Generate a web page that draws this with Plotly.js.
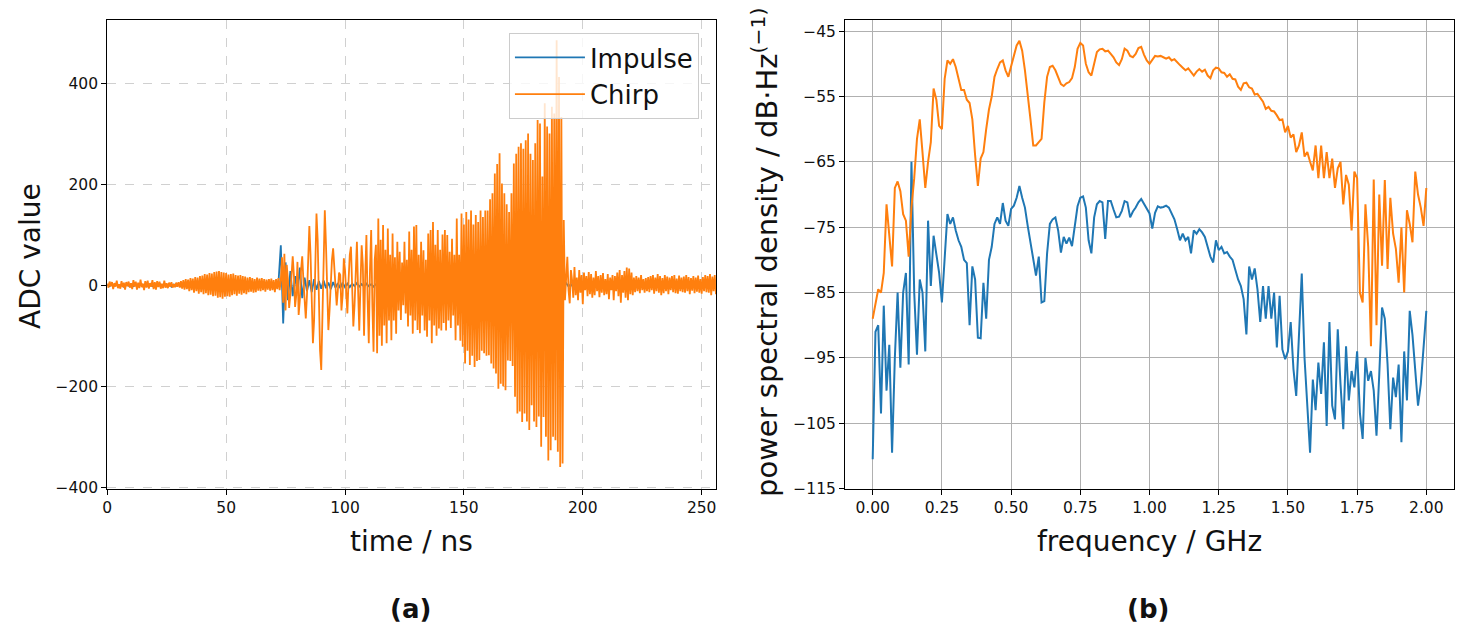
<!DOCTYPE html>
<html>
<head>
<meta charset="utf-8">
<script src="https://cdn.plot.ly/plotly-3.0.1.min.js"></script>
<style>
  html, body { margin: 0; padding: 0; background: white; }
  #chart { width: 1465px; height: 634px; }
</style>
</head>
<body>
<div id="chart"></div>
<script>
// ---- Data ----
// Time traces are sampled on a regular grid: chirp every 0.5 ns, impulse every 1 ns.
const CHIRP_DT = 0.5;
const IMPULSE_DT = 1;

// ADC value of the chirp, t = 0 .. 256 ns
const chirpAdc = [
  // 0 - 72.5 ns: quiet noise floor with a small bump around 45 ns
  3,-5,7,-2,6,-8,4,-3,9,-6,2,-7,8,-4,5,-9,6,-2,7,-5,
  4,-8,10,-3,7,-9,5,-6,11,-4,3,-10,8,-5,9,-7,4,-3,10,-8,
  6,-9,8,-4,7,-7,3,-6,9,-5,4,-6,5,-3,6,-5,2,-4,5,-3,
  6,-5,8,-7,10,-9,12,-8,11,-12,14,-10,13,-15,16,-12,15,-17,18,-14,
  19,-18,22,-16,21,-20,24,-19,23,-22,26,-21,27,-25,28,-24,26,-27,25,-23,
  24,-22,21,-23,22,-20,23,-18,20,-21,19,-17,20,-19,18,-16,17,-18,15,-14,
  16,-13,14,-15,12,-14,15,-11,13,-12,14,-10,12,-13,11,-9,12,-11,13,-10,
  10,-14,12,-8,14,-10,
  // 73 - 192 ns: the chirp itself
  10,55,-35,62,-50,40,10,-45,-20,30,
  57,20,-43,-20,46,-59,-30,30,57,10,
  -40,-66,-20,60,117,60,-40,-115,-70,40,
  142,90,-30,-130,-168,-60,70,148,80,-20,
  -89,-50,10,50,73,30,-20,-40,-10,25,
  20,-50,-20,53,30,-30,-56,10,60,76,
  -10,-82,-40,50,86,-10,-90,0,79,40,
  -100,20,99,-30,-115,30,109,-40,-132,50,
  80,-135,132,-100,90,-120,119,-80,70,-115,
  112,-70,60,-109,102,-70,55,-96,86,-50,
  66,-69,45,-40,86,-56,50,-82,106,-60,
  70,-96,116,-70,119,-89,60,-95,86,-60,
  69,-90,50,-102,102,-70,109,-115,125,-80,
  80,-100,109,-86,70,-90,100,-75,109,-90,
  99,-70,66,-85,92,-60,60,-109,132,-80,
  60,-110,142,-122,120,-155,145,-130,130,-158,
  148,-140,120,-162,139,-150,125,-148,148,-130,
  135,-135,148,-140,148,-139,170,-155,182,-165,
  221,-175,240,-205,261,-195,201,-200,182,-208,
  160,-149,145,-150,182,-160,241,-221,260,-254,
  274,-250,281,-271,270,-254,287,-270,300,-287,
  260,-238,248,-270,281,-281,327,-260,320,-320,
  215,-261,360,-300,314,-347,300,-327,353,-300,
  340,-307,485,-330,412,-360,333,-353,129,
  // 192.5 - 256 ns: ringing after the pulse
  -30,20,56,-10,-36,30,10,-25,36,-20,
  15,-30,30,-15,20,-38,25,-10,18,-22,
  26,-18,22,-25,15,-20,28,-12,18,-24,
  20,-15,24,-20,12,-18,22,-28,15,-10,
  20,-30,18,-12,25,-22,30,-35,20,-15,
  28,-25,35,-30,33,-18,25,-20,15,-14,
  18,-12,15,-16,20,-10,12,-15,14,-12,
  16,-14,18,-10,20,-17,15,-12,22,-15,
  18,-20,14,-16,20,-12,17,-18,15,-10,
  18,-14,20,-16,13,-17,19,-12,15,-14,
  17,-15,20,-12,16,-18,14,-11,18,-16,
  15,-13,19,-15,12,-17,16,-12,20,-14,
  18,-15,22,-20,17,-12,20,-18,
];

// ADC value of the impulse, t = 0 .. 256 ns
const impulseAdc = [
  1,-2,2,-1,3,-2,1,-3,2,-1, 2,-2,1,-1,3,-2,2,-1,1,-2,
  2,-1,3,-2,1,-2,2,-3,1,-1, 2,-2,3,-1,1,-2,2,-1,3,-2,
  1,-3,2,-1,2,-2,1,-1,3,-2, 2,-1,1,-2,3,-2,2,-1,1,-3,
  2,-2,1,-1,3,-2,2,-1,1,-2, 3,-2,4,
  79,-76,45,-30,28,-22,18,-15,35,-26,
  15,-12,10,-14,12,-9,8,-7,9,-6,
  5,-8,6,-5,4,-6,5,-4,3,-4,
  3,-2,4,-3,2,-3,3,-2,2,-3, 2,-2,3,-1,2,-3,2,-2,1,-2,
  3,-2,2,-1,2,-3,1,-2,2,-1, 3,-2,2,-2,1,-3,2,-1,2,-2,
  1,-2,3,-1,2,-2,2,-3,1,-1, 2,-3,2,-1,3,-2,1,-2,2,-1,
  3,-2,1,-2,2,-1,2,-3,1,-2, 2,-1,3,-2,2,-1,1,-3,2,-2,
  2,-3,4,-2,3,-4,2,-3,3,-2, 4,-3,2,-4,3,-2,3,-3,2,-3,
  3,-2,4,-3,2,-3,3,-2,2,-3, 3,-2,2,-3,3,-2,2,-1,3,-2,
  2,-3,2,-2,3,-1,2,-2,3,-2, 2,-2,1,
];

// Power spectral density, f = 0 .. 2 GHz every 0.01 GHz
const FREQ_STEP = 0.01;
const chirpPsd = [
  -89,-86.5,-84.5,-85,-82,-71.5,-75.8,-81,-69,-68,
  -69.5,-73,-74,-79.5,-72,-67.5,-61.5,-58.5,-63.6,-69,
  -65,-62,-53.8,-55.5,-59.5,-60,-52.3,-49.5,-50,-49.3,
  -50.5,-52.5,-54,-54,-55.5,-56,-58.5,-64,-68.7,-64.5,
  -63.5,-60,-57,-55,-52,-50.8,-49.8,-49.5,-51,-52,
  -50.3,-48.5,-47.2,-46.5,-48,-51,-54.4,-58.5,-62.5,-62.5,
  -62,-61.5,-55.9,-52,-50.5,-50.3,-51,-52,-53.1,-53.4,
  -53,-52.8,-52.2,-50.5,-47.7,-46.8,-47.2,-50,-51.3,-51.8,
  -49.8,-48.2,-47.8,-47.7,-48.1,-48,-48.5,-49,-49.8,-50.2,
  -49.3,-47.7,-48,-48.8,-49,-48.5,-47.6,-47.4,-48.6,-49.5,
  -50,-49.3,-48.8,-48.9,-48.8,-49,-49.2,-49,-49.5,-49.3,
  -49.8,-50.2,-50.6,-51,-50.7,-51.3,-51.8,-51.2,-50.8,-51.2,
  -50.9,-51.8,-52.2,-51,-50.6,-50.7,-51.3,-51.4,-52,-51.6,
  -52.3,-52.4,-53.5,-54,-53,-52.9,-53.6,-53.8,-54.7,-54.6,
  -55.2,-55.8,-56.9,-56.6,-57.2,-57.3,-57.9,-58.6,-58.5,-60.5,
  -59.5,-61.3,-60.8,-63.5,-62.5,-60.5,-64.2,-63.5,-65,-66.3,
  -62.5,-67.5,-62.5,-67.5,-63.5,-67.5,-64.5,-69,-66,-65,
  -71.5,-67,-68.5,-75.5,-66.5,-67.5,-85,-86.5,-71.5,-78,
  -93.2,-67.7,-90,-70,-80.9,-67.8,-81.4,-70.5,-76,-78.3,
  -83.5,-75,-85,-72.4,-74.5,-77.3,-66.5,-70,-72,-74.8,
  -69,
];
const impulsePsd = [
  -110.5,-91,-90,-103.5,-87,-100,-93,-109.5,-95,-85,
  -96.5,-85,-82,-96,-65,-85,-94.5,-83,-85,-94,
  -74,-84,-76.3,-79.5,-82,-86.5,-78.9,-73,-74.5,-73.5,
  -75.5,-77,-78,-80,-80.5,-90,-81,-83,-91.9,-92,
  -83.5,-89,-80,-78,-74.5,-73.5,-74.5,-71.3,-74,-74.8,
  -72.2,-71.7,-70.5,-68.7,-70.5,-72,-74.8,-77.5,-80,-82.4,
  -79.5,-86.5,-86.3,-79,-74.5,-73.8,-73.5,-75.5,-78.9,-76.5,
  -77.5,-76.6,-77.9,-74.5,-71.8,-70.5,-70.3,-72,-77,-79,
  -73.5,-71.5,-71,-71.2,-76.8,-71,-71,-72.3,-73.5,-73.4,
  -72.5,-71,-71.2,-73.5,-72.6,-72,-71.2,-70.7,-71.5,-72.3,
  -72.9,-75.2,-72.8,-71.8,-72,-71.9,-71.7,-72,-73,-73.8,
  -75.3,-77,-76,-77,-76.5,-79,-75.5,-76,-75.3,-75.8,
  -76.5,-78,-79.5,-80.4,-77,-78.5,-78,-79,-78.8,-79.5,
  -80,-81.5,-83,-84,-86,-91.4,-81,-83,-81.3,-84.5,
  -89.5,-84,-89,-84,-89,-85,-93.4,-85.5,-93.7,-95.2,
  -94,-89.5,-96.7,-100.8,-92,-82.1,-95,-103.4,-109.5,-98.3,
  -103,-95.7,-100.5,-92.6,-105.4,-89.5,-102.3,-104.4,-90.6,-99,
  -105.9,-93.2,-101.5,-97,-99.5,-94,-103.4,-107.4,-95,-98.5,
  -97,-100,-106.9,-97.5,-87.3,-89,-96,-105.9,-98,-101,
  -96,-107.9,-94,-101.5,-87.8,-91.5,-97,-102.3,-99,-93,
  -87.8,
];

const timeTicks = [0, 50, 100, 150, 200, 250];
const adcTicks = [-400, -200, 0, 200, 400];
const freqTicks = [0, 0.25, 0.5, 0.75, 1.0, 1.25, 1.5, 1.75, 2.0];
const psdTicks = [-115, -105, -95, -85, -75, -65, -55, -45];

(() => {
  const BLUE = "#1f77b4";
  const ORANGE = "#ff7f0e";
  const FONT = "DejaVu Sans, Liberation Sans, sans-serif";

  const traces = [
    {
      type: "scatter", mode: "lines", name: "Impulse",
      x0: 0, dx: IMPULSE_DT, y: impulseAdc,
      line: { color: BLUE, width: 1.8 },
      xaxis: "x", yaxis: "y",
    },
    {
      type: "scatter", mode: "lines", name: "Chirp",
      x0: 0, dx: CHIRP_DT, y: chirpAdc,
      line: { color: ORANGE, width: 1.8 },
      xaxis: "x", yaxis: "y",
    },
    {
      type: "scatter", mode: "lines", name: "Impulse PSD", showlegend: false,
      x0: 0, dx: FREQ_STEP, y: impulsePsd,
      line: { color: BLUE, width: 2 },
      xaxis: "x2", yaxis: "y2",
    },
    {
      type: "scatter", mode: "lines", name: "Chirp PSD", showlegend: false,
      x0: 0, dx: FREQ_STEP, y: chirpPsd,
      line: { color: ORANGE, width: 2 },
      xaxis: "x2", yaxis: "y2",
    },
  ];

  // shared look of the matplotlib-style frame
  const frame = {
    showline: true, linecolor: "#000", linewidth: 1.1, mirror: true,
    ticks: "outside", ticklen: 5, tickwidth: 1.1, tickcolor: "#000",
    tickfont: { family: FONT, size: 15.5, color: "#111" },
    zeroline: false, fixedrange: true,
  };
  const Y_DOMAIN = [0.2292, 0.9685];

  const layout = {
    width: 1465, height: 634,
    margin: { l: 0, r: 0, t: 0, b: 0 },
    paper_bgcolor: "white", plot_bgcolor: "white",
    font: { family: FONT, color: "#111" },
    showlegend: true,
    legend: {
      x: 0.3474, y: 0.948, xanchor: "left", yanchor: "top",
      bgcolor: "rgba(255,255,255,0.8)", bordercolor: "#cccccc", borderwidth: 1,
      font: { family: FONT, size: 26, color: "#111" },
      itemwidth: 70, tracegroupgap: 0,
    },
    xaxis: {
      ...frame, domain: [0.0732, 0.4887], range: [0, 256], anchor: "y",
      tickvals: timeTicks,
      showgrid: true, gridcolor: "#d0d0d0", griddash: "dash", gridwidth: 1,
    },
    yaxis: {
      ...frame, domain: Y_DOMAIN, range: [-403, 525], anchor: "x",
      tickvals: adcTicks,
      showgrid: true, gridcolor: "#d0d0d0", griddash: "dash", gridwidth: 1,
    },
    xaxis2: {
      ...frame, domain: [0.5768, 0.9925], range: [-0.1, 2.1], anchor: "y2",
      tickvals: freqTicks, tickformat: ".2f",
      showgrid: true, gridcolor: "#b0b0b0", gridwidth: 1.3,
    },
    yaxis2: {
      ...frame, domain: Y_DOMAIN, range: [-115, -43.3], anchor: "x2",
      tickvals: psdTicks,
      showgrid: true, gridcolor: "#b0b0b0", gridwidth: 1.3,
    },
    annotations: [
      { text: "ADC value", x: 31 / 1465, y: 1 - 256 / 634, textangle: -90 },
      { text: "time / ns", x: 411 / 1465, y: 1 - 541 / 634 },
      { text: "power spectral density / dB·Hz<sup>(−1)</sup>", x: 765 / 1465, y: 1 - 253 / 634, textangle: -90, size: 29 },
      { text: "frequency / GHz", x: 1149 / 1465, y: 1 - 541 / 634 },
      { text: "<b>(a)</b>", x: 410 / 1465, y: 1 - 609 / 634, size: 26 },
      { text: "<b>(b)</b>", x: 1148 / 1465, y: 1 - 609 / 634, size: 26 },
    ].map((a) => ({
      text: a.text, x: a.x, y: a.y, xref: "paper", yref: "paper",
      xanchor: "center", yanchor: "middle", showarrow: false,
      textangle: a.textangle || 0,
      font: { family: FONT, size: a.size || 28, color: "#111" },
    })),
  };

  Plotly.newPlot("chart", traces, layout, { displayModeBar: false, responsive: false });
})();
</script>
</body>
</html>
